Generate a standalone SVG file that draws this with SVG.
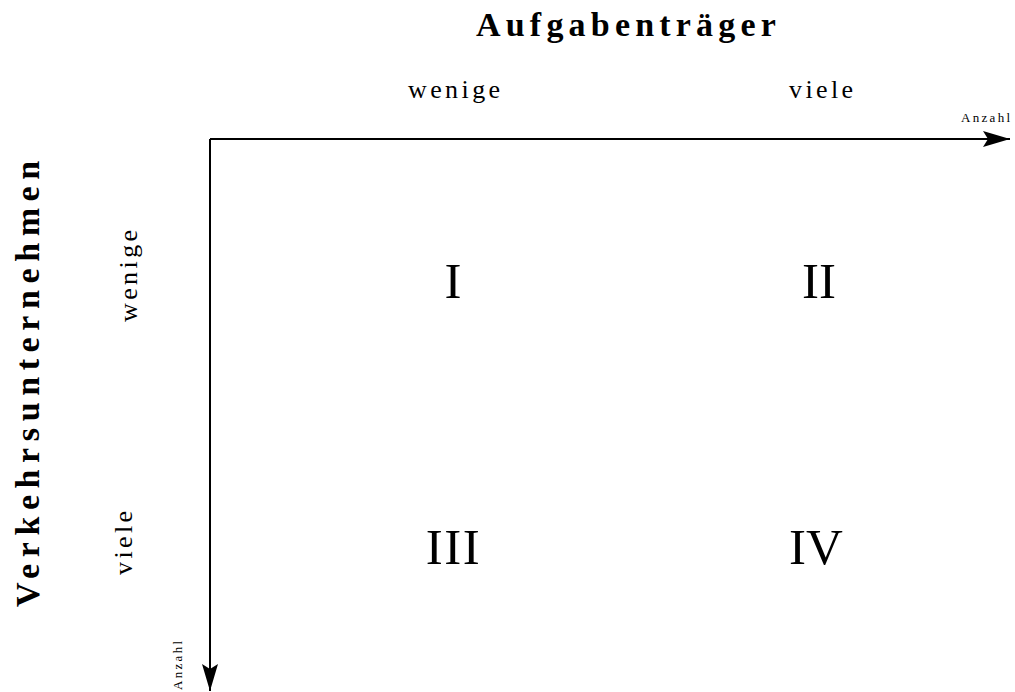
<svg xmlns="http://www.w3.org/2000/svg" width="1015" height="692" viewBox="0 0 1015 692">
<style>
text{font-family:"Liberation Serif","Times New Roman",serif;fill:#000}
.title{font-size:34px;font-weight:bold}
.lab{font-size:26px;letter-spacing:3.4px}
.small{font-size:13px;letter-spacing:2.3px}
.num{font-size:51px;text-anchor:middle}
.axis{stroke:#000;stroke-width:2;fill:none}
</style>
<defs>
<marker id="arr" markerUnits="userSpaceOnUse" markerWidth="30" markerHeight="20" refX="27" refY="9" orient="auto">
<path d="M0,1 L27,9 L0,17 L5,9 Z" fill="#000"/>
</marker>
</defs>
<rect width="1015" height="692" fill="#fff"/>
<g id="connectors">
<line class="axis" x1="210" y1="139" x2="1010" y2="139" marker-end="url(#arr)"/>
<line class="axis" x1="210" y1="139" x2="210" y2="691" marker-end="url(#arr)"/>
</g>
<g id="title-top"><text class="title" x="476" y="36" style="letter-spacing:5.2px">Aufgabenträger</text></g>
<g id="title-left"><text class="title" transform="translate(39,607) rotate(-90)" style="letter-spacing:6.6px">Verkehrsunternehmen</text></g>
<g id="label-top-wenige"><text class="lab" x="408" y="98">wenige</text></g>
<g id="label-top-viele"><text class="lab" x="789" y="98">viele</text></g>
<g id="label-x-anzahl"><text class="small" x="961" y="122">Anzahl</text></g>
<g id="label-left-wenige"><text class="lab" transform="translate(137,322) rotate(-90)">wenige</text></g>
<g id="label-left-viele"><text class="lab" transform="translate(132,575) rotate(-90)">viele</text></g>
<g id="label-y-anzahl"><text class="small" transform="translate(182,690) rotate(-90)">Anzahl</text></g>
<g id="q1"><text class="num" x="453" y="298">I</text></g>
<g id="q2"><text class="num" x="819" y="298">II</text></g>
<g id="q3"><text class="num" x="453.5" y="564" style="letter-spacing:1.5px">III</text></g>
<g id="q4"><text class="num" x="816" y="564">IV</text></g>
</svg>
